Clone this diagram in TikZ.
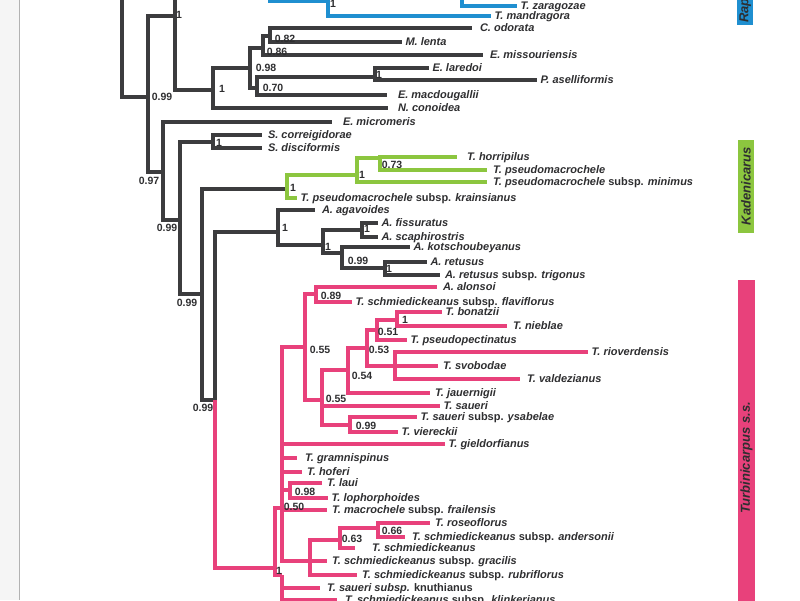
\documentclass[tikz,border=0pt]{standalone}
\usepackage{fontspec}
\setmainfont{Liberation Sans}
\usetikzlibrary{positioning}
\definecolor{brgray}{HTML}{3C3C3E}
\definecolor{brblue}{HTML}{1F8FD0}
\definecolor{brgreen}{HTML}{8CC63F}
\definecolor{brpink}{HTML}{E8417B}
\definecolor{txt}{HTML}{2E2E30}
\tikzset{
  br/.style={line width=4pt,draw=brgray},
  brb/.style={br,draw=brblue},
  brg/.style={br,draw=brgreen},
  brp/.style={br,draw=brpink},
  sp/.style={anchor=west,inner sep=0pt,outer sep=3.5pt,text=txt,text height=8pt,text depth=2pt,
    font=\fontsize{11}{13}\selectfont\bfseries\itshape},
  bs/.style={inner sep=0pt,text=txt,font=\fontsize{10.5}{12}\selectfont\bfseries},
  cladename/.style={rotate=90,inner sep=0pt,text=txt,font=\fontsize{13}{15}\selectfont\bfseries\itshape}
}
\begin{document}
\begin{tikzpicture}[x=1pt,y=-1pt]
\useasboundingbox (0,0) rectangle (800,600);
\clip (0,0) rectangle (800,600);
% page edge of the scan
\fill[black!4] (0,0) rectangle (19,600);
\draw[black!30,line width=1.2pt] (19.5,0) -- (19.5,600);

% tip labels
\node[sp] (zaragozae) at (517,6) {T. zaragozae};
\node[sp] (mandragora) at (491,16) {T. mandragora};
\node[sp,outer sep=8pt] (odorata) at (472,28) {C. odorata};
\node[sp] (lenta) at (402,42) {M. lenta};
\node[sp,outer sep=7pt] (missouriensis) at (483,55) {E. missouriensis};
\node[sp] (laredoi) at (429,68) {E. laredoi};
\node[sp] (aselliformis) at (537,80) {P. aselliformis};
\node[sp,outer sep=11pt] (macdougallii) at (387,95) {E. macdougallii};
\node[sp,outer sep=10pt] (conoidea) at (388,108) {N. conoidea};
\node[sp,outer sep=11pt] (micromeris) at (332,122) {E. micromeris};
\node[sp,outer sep=6pt] (correigidorae) at (262,135) {S. correigidorae};
\node[sp,outer sep=6pt] (disciformis) at (262,148) {S. disciformis};
\node[sp,outer sep=10pt] (horripilus) at (457,157) {T. horripilus};
\node[sp,outer sep=6pt] (pseudomacrochele) at (487,170) {T. pseudomacrochele};
\node[sp,outer sep=6pt] (minimus) at (487,182) {T. pseudomacrochele \textup{subsp.} minimus};
\node[sp] (krainsianus) at (297,198) {T. pseudomacrochele \textup{subsp.} krainsianus};
\node[sp,outer sep=7pt] (agavoides) at (315,210) {A. agavoides};
\node[sp] (fissuratus) at (378,223) {A. fissuratus};
\node[sp] (scaphirostris) at (378,237) {A. scaphirostris};
\node[sp] (kotschoubeyanus) at (410,247) {A. kotschoubeyanus};
\node[sp] (retusus) at (427,262) {A. retusus};
\node[sp,outer sep=5pt] (trigonus) at (440,275) {A. retusus \textup{subsp.} trigonus};
\node[sp,outer sep=6pt] (alonsoi) at (437,287) {A. alonsoi};
\node[sp] (flaviflorus) at (352,302) {T. schmiedickeanus \textup{subsp.} flaviflorus};
\node[sp] (bonatzii) at (442,312) {T. bonatzii};
\node[sp,outer sep=6pt] (nieblae) at (507,326) {T. nieblae};
\node[sp] (pseudopectinatus) at (407,340) {T. pseudopectinatus};
\node[sp] (rioverdensis) at (588,352) {T. rioverdensis};
\node[sp,outer sep=5pt] (svobodae) at (438,366) {T. svobodae};
\node[sp,outer sep=7pt] (valdezianus) at (520,379) {T. valdezianus};
\node[sp,outer sep=5pt] (jauernigii) at (430,393) {T. jauernigii};
\node[sp] (saueri) at (440,406) {T. saueri};
\node[sp] (ysabelae) at (417,417) {T. saueri \textup{subsp.} ysabelae};
\node[sp] (viereckii) at (398,432) {T. viereckii};
\node[sp] (gieldorfianus) at (445,444) {T. gieldorfianus};
\node[sp,outer sep=8pt] (gramnispinus) at (297,458) {T. gramnispinus};
\node[sp,outer sep=5pt] (hoferi) at (302,472) {T. hoferi};
\node[sp,outer sep=5pt] (laui) at (322,483) {T. laui};
\node[sp] (lophorphoides) at (328,498) {T. lophorphoides};
\node[sp,outer sep=5pt] (frailensis) at (327,510) {T. macrochele \textup{subsp.} frailensis};
\node[sp,outer sep=5pt] (roseoflorus) at (430,523) {T. roseoflorus};
\node[sp,outer sep=7pt] (andersonii) at (405,537) {T. schmiedickeanus \textup{subsp.} andersonii};
\node[sp,outer sep=17pt] (schmiedickeanus) at (355,548) {T. schmiedickeanus};
\node[sp,outer sep=5pt] (gracilis) at (327,561) {T. schmiedickeanus \textup{subsp.} gracilis};
\node[sp,outer sep=5pt] (rubriflorus) at (357,575) {T. schmiedickeanus \textup{subsp.} rubriflorus};
\node[sp,outer sep=7pt] (knuthianus) at (320,588) {T. saueri subsp. \textup{knuthianus}};
\node[sp,outer sep=8pt] (klinkerianus) at (337,600) {T. schmiedickeanus \textup{subsp.} klinkerianus};

% internal nodes (x of the node, y of its stem)
\coordinate (r0) at (122,-30);
\coordinate (n099a) at (148,97);
\coordinate (n1a) at (175,16);
\coordinate (rapi) at (270,-20);
\coordinate (n1blue) at (328,1);
\coordinate (nz) at (462,-15);
\coordinate (zhid) at (517,-3);
\coordinate (n1b) at (213,90);
\coordinate (n098) at (250,68);
\coordinate (n086) at (263,48);
\coordinate (n082) at (270,36);
\coordinate (n070) at (257,88);
\coordinate (n1c) at (375,77);
\coordinate (n097) at (163,172);
\coordinate (n099b) at (180,220);
\coordinate (n1d) at (213,142);
\coordinate (n099c) at (202,294);
\coordinate (kad) at (287,189);
\coordinate (n1k) at (357,175);
\coordinate (n073) at (380,158);
\coordinate (n099d) at (215,400);
\coordinate (n1e) at (278,232);
\coordinate (n1f) at (323,245);
\coordinate (n1g) at (362,230);
\coordinate (n099e) at (342,253);
\coordinate (n1h) at (385,268);
\coordinate (tb1) at (275,568);
\coordinate (n050) at (282,508);
\coordinate (nlow) at (282,575);
\coordinate (nhid) at (282,640);
\coordinate (n055a) at (305,347);
\coordinate (n089) at (316,294);
\coordinate (n055b) at (322,400);
\coordinate (n054) at (348,370);
\coordinate (n053) at (367,348);
\coordinate (n051) at (377,330);
\coordinate (n1t) at (397,320);
\coordinate (npol) at (395,366);
\coordinate (n099f) at (350,425);
\coordinate (n098b) at (290,490);
\coordinate (ns) at (310,561);
\coordinate (n063) at (340,540);
\coordinate (n066) at (378,528);

% grey branches
\draw[br] (r0) |- (n099a);
\draw[br] (n099a) |- (n1a);
\draw[br] (n1a) |- (rapi);
\draw[br] (n1a) |- (n1b);
\draw[br] (n1b) |- (n098);
\draw[br] (n1b) |- (conoidea.west);
\draw[br] (n098) |- (n086);
\draw[br] (n098) |- (n070);
\draw[br] (n086) |- (n082);
\draw[br] (n086) |- (missouriensis.west);
\draw[br] (n082) |- (odorata.west);
\draw[br] (n082) |- (lenta.west);
\draw[br] (n070) |- (n1c);
\draw[br] (n070) |- (macdougallii.west);
\draw[br] (n1c) |- (laredoi.west);
\draw[br] (n1c) |- (aselliformis.west);
\draw[br] (n099a) |- (n097);
\draw[br] (n097) |- (micromeris.west);
\draw[br] (n097) |- (n099b);
\draw[br] (n099b) |- (n1d);
\draw[br] (n1d) |- (correigidorae.west);
\draw[br] (n1d) |- (disciformis.west);
\draw[br] (n099b) |- (n099c);
\draw[br] (n099c) |- (kad);
\draw[br] (n099c) |- (n099d);
\draw[br] (n099d) |- (n1e);
\draw[br] (n1e) |- (agavoides.west);
\draw[br] (n1e) |- (n1f);
\draw[br] (n1f) |- (n1g);
\draw[br] (n1g) |- (fissuratus.west);
\draw[br] (n1g) |- (scaphirostris.west);
\draw[br] (n1f) |- (n099e);
\draw[br] (n099e) |- (kotschoubeyanus.west);
\draw[br] (n099e) |- (n1h);
\draw[br] (n1h) |- (retusus.west);
\draw[br] (n1h) |- (trigonus.west);

% Rapicactus
\draw[brb] (rapi) |- (n1blue);
\draw[brb] (n1blue) |- (nz);
\draw[brb] (nz) |- (zhid);
\draw[brb] (nz) |- (zaragozae.west);
\draw[brb] (n1blue) |- (mandragora.west);

% Kadenicarus
\draw[brg] (kad) |- (n1k);
\draw[brg] (kad) |- (krainsianus.west);
\draw[brg] (n1k) |- (n073);
\draw[brg] (n1k) |- (minimus.west);
\draw[brg] (n073) |- (horripilus.west);
\draw[brg] (n073) |- (pseudomacrochele.west);

% Turbinicarpus s.s.
\draw[brp] (n099d) |- (tb1);
\draw[brp] (tb1) |- (n050);
\draw[brp] (tb1) |- (nlow);
\draw[brp] (n050) |- (n055a);
\draw[brp] (n055a) |- (n089);
\draw[brp] (n089) |- (alonsoi.west);
\draw[brp] (n089) |- (flaviflorus.west);
\draw[brp] (n055a) |- (n055b);
\draw[brp] (n055b) |- (n054);
\draw[brp] (n054) |- (n053);
\draw[brp] (n053) |- (n051);
\draw[brp] (n051) |- (n1t);
\draw[brp] (n1t) |- (bonatzii.west);
\draw[brp] (n1t) |- (nieblae.west);
\draw[brp] (n051) |- (pseudopectinatus.west);
\draw[brp] (n053) |- (npol);
\draw[brp] (npol) |- (rioverdensis.west);
\draw[brp] (npol) |- (svobodae.west);
\draw[brp] (npol) |- (valdezianus.west);
\draw[brp] (n054) |- (jauernigii.west);
\draw[brp] (n055b) |- (saueri.west);
\draw[brp] (n055b) |- (n099f);
\draw[brp] (n099f) |- (ysabelae.west);
\draw[brp] (n099f) |- (viereckii.west);
\draw[brp] (n050) |- (gieldorfianus.west);
\draw[brp] (n050) |- (gramnispinus.west);
\draw[brp] (n050) |- (hoferi.west);
\draw[brp] (n050) |- (n098b);
\draw[brp] (n098b) |- (laui.west);
\draw[brp] (n098b) |- (lophorphoides.west);
\draw[brp] (n050) |- (frailensis.west);
\draw[brp] (n050) |- (ns);
\draw[brp] (ns) |- (n063);
\draw[brp] (n063) |- (n066);
\draw[brp] (n066) |- (roseoflorus.west);
\draw[brp] (n066) |- (andersonii.west);
\draw[brp] (n063) |- (schmiedickeanus.west);
\draw[brp] (ns) |- (gracilis.west);
\draw[brp] (ns) |- (rubriflorus.west);
\draw[brp] (nlow) |- (knuthianus.west);
\draw[brp] (nlow) |- (klinkerianus.west);
\draw[brp] (nlow) -- (nhid);

% support values
\node[bs] (s1) at (179,15) {1};
\node[bs] (s2) at (162,97) {0.99};
\node[bs] (s3) at (333,4) {1};
\node[bs] (s4) at (222,89) {1};
\node[bs] (s5) at (266,68) {0.98};
\node[bs] (s6) at (277,52) {0.86};
\node[bs] (s7) at (285,39) {0.82};
\node[bs] (s8) at (273,88) {0.70};
\node[bs] (s9) at (379,75) {1};
\node[bs] (s10) at (149,181) {0.97};
\node[bs] (s11) at (167,228) {0.99};
\node[bs] (s12) at (219,143) {1};
\node[bs] (s13) at (187,303) {0.99};
\node[bs] (s14) at (293,188) {1};
\node[bs] (s15) at (362,175) {1};
\node[bs] (s16) at (392,165) {0.73};
\node[bs] (s17) at (203,408) {0.99};
\node[bs] (s18) at (285,228) {1};
\node[bs] (s19) at (328,247) {1};
\node[bs] (s20) at (367,229) {1};
\node[bs] (s21) at (358,261) {0.99};
\node[bs] (s22) at (389,269) {1};
\node[bs] (s23) at (331,296) {0.89};
\node[bs] (s24) at (320,350) {0.55};
\node[bs] (s25) at (405,320) {1};
\node[bs] (s26) at (388,332) {0.51};
\node[bs] (s27) at (379,350) {0.53};
\node[bs] (s28) at (362,376) {0.54};
\node[bs] (s29) at (336,399) {0.55};
\node[bs] (s30) at (366,426) {0.99};
\node[bs] (s31) at (305,492) {0.98};
\node[bs] (s32) at (294,507) {0.50};
\node[bs] (s33) at (392,531) {0.66};
\node[bs] (s34) at (352,539) {0.63};
\node[bs] (s35) at (279,571) {1};

% clade bars
\fill[brblue] (737,-80) rectangle (753,25);
\node[cladename,anchor=west] (rapicactus) at (745,23) {Rapicactus};
\fill[brgreen] (738,140) rectangle (754,233);
\node[cladename] (kadenicarus) at (746,186) {Kadenicarus};
\fill[brpink] (738,280) rectangle (755,620);
\node[cladename] (turbinicarpus) at (746.5,458) {Turbinicarpus s.s.};
\end{tikzpicture}
\end{document}
